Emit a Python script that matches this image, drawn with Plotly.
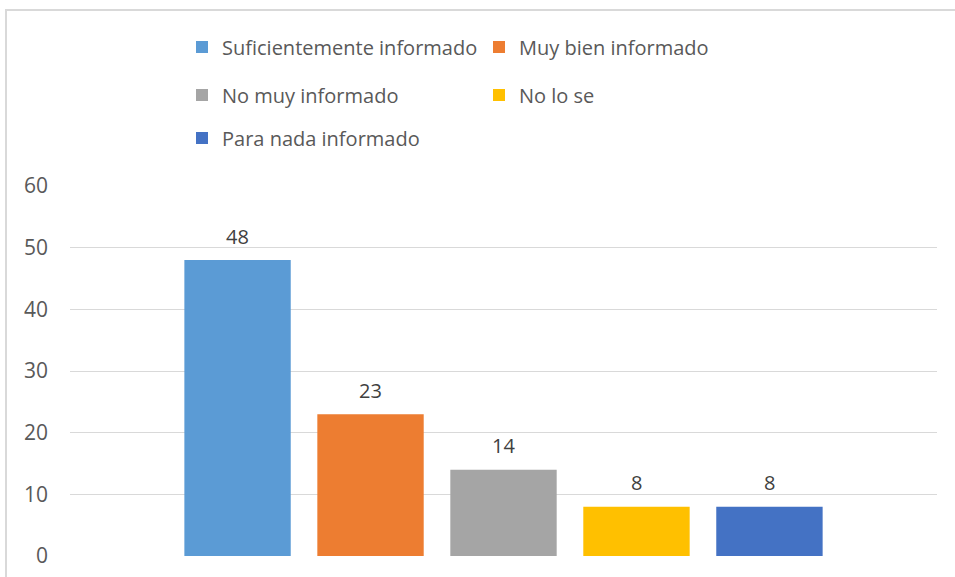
import plotly.graph_objects as go

# Survey answers: how informed respondents feel
categories = [
    "Suficientemente informado",
    "Muy bien informado",
    "No muy informado",
    "No lo se",
    "Para nada informado",
]
values = [48, 23, 14, 8, 8]
colors = ["#5B9BD5", "#ED7D31", "#A5A5A5", "#FFC000", "#4472C4"]
y_ticks = [0, 10, 20, 30, 40, 50, 60]

W, H = 955, 577
PL, PR, PT, PB = 70, 937, 186, 556  # plot area in pixels
FONT = "Open Sans"

fig = go.Figure()

# legend slots: (text-left px, row-centre px)
legend_slots = [(222, 47), (519, 47), (222, 95), (519, 95), (222, 138)]
legend_names = ["legend", "legend2", "legend3", "legend4", "legend5"]

for i, (cat, val, col) in enumerate(zip(categories, values, colors)):
    fig.add_trace(go.Bar(
        x=[i], y=[val], name=cat, width=0.8,
        marker=dict(color=col, line=dict(width=0)),
        legend=legend_names[i], showlegend=True,
        hoverinfo="name+y",
    ))
    fig.add_annotation(
        x=i, y=val, text=f"{val:.0f}", showarrow=False,
        yanchor="middle", yshift=24,
        font=dict(family=FONT, size=20, color="#404040"),
    )

pw, ph = PR - PL, PB - PT
legend_layout = {}
for name, (tx, ty) in zip(legend_names, legend_slots):
    legend_layout[name] = dict(
        visible=True,
        xref="container", yref="container",
        x=(tx - 40) / W, xanchor="left",
        y=1 - ty / H, yanchor="middle",
        orientation="h", bgcolor="rgba(0,0,0,0)",
        font=dict(family=FONT, size=20, color="#595959"),
        itemclick=False, itemdoubleclick=False,
    )

# light chart frame
fig.add_shape(
    type="rect", xref="paper", yref="paper",
    x0=(6 - PL) / pw, x1=(W + 10 - PL) / pw,
    y0=(PB - (H + 10)) / ph, y1=(PB - 10) / ph,
    line=dict(color="#D9D9D9", width=2), fillcolor="rgba(0,0,0,0)",
    layer="below",
)

fig.update_layout(
    width=W, height=H,
    margin=dict(l=PL, r=W - PR, t=PT, b=H - PB, pad=0, autoexpand=False),
    paper_bgcolor="white", plot_bgcolor="white",
    barmode="overlay", showlegend=True,
    **legend_layout,
)
fig.update_xaxes(
    range=[-1.26, 5.26], showticklabels=False, showgrid=False,
    zeroline=False, showline=False, fixedrange=True, automargin=False,
)
fig.update_yaxes(
    range=[0, 60], tickvals=y_ticks, showgrid=True,
    gridcolor="#D9D9D9", gridwidth=1, zeroline=False, showline=False,
    ticks="", ticklabelstandoff=21, automargin=False,
    tickfont=dict(family=FONT, size=21, color="#595959"),
    fixedrange=True,
)

fig.write_html("out.html")
